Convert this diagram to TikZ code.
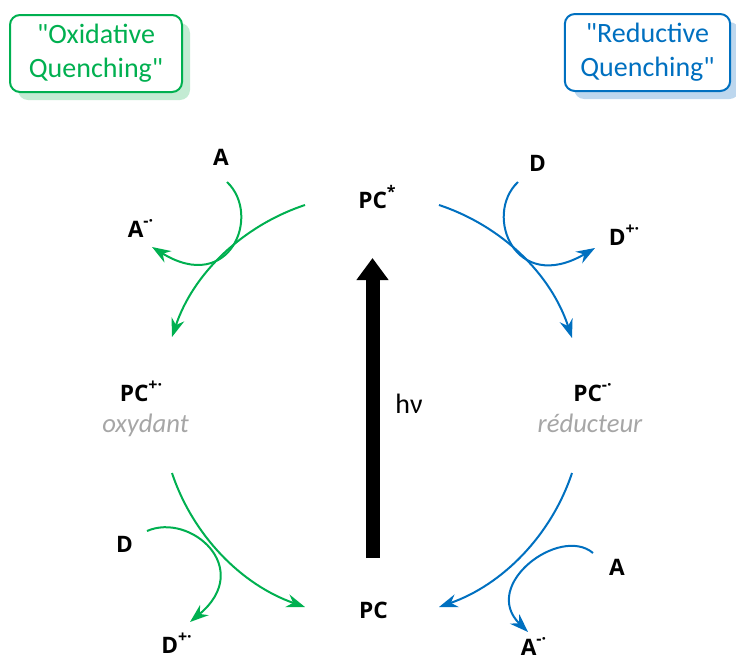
\documentclass[tikz,border=0pt]{standalone}
\usepackage{fontspec}
\setmainfont{Carlito}
\newfontfamily\labelfont{Open Sans}
\usetikzlibrary{arrows.meta,shadows}
\definecolor{OxGreen}{HTML}{00B050}
\definecolor{OxShade}{HTML}{C3EBD3}
\definecolor{RedBlue}{HTML}{0070C0}
\definecolor{RedShade}{HTML}{BDD7EE}
\definecolor{NoteGray}{HTML}{A6A6A6}
\newcommand{\charge}[1]{\raisebox{0.48em}{\fontsize{12}{12}\selectfont#1}}
\begin{document}
\begin{tikzpicture}[x=0.75pt,y=-0.75pt,>=Stealth]
  \tikzstyle{species}=[inner sep=0pt,anchor=base,
    font=\labelfont\bfseries\fontsize{17}{20}\selectfont]
  \tikzstyle{role}=[inner sep=0pt,anchor=base,text=NoteGray,
    font=\itshape\fontsize{20}{24}\selectfont]
  \tikzstyle{quench}=[draw,fill=white,line width=1.5pt,rounded corners=7.5pt,
    minimum height=57.75pt,align=center,font=\fontsize{21}{25.5}\selectfont]
  \tikzstyle{oxflow}=[OxGreen,line width=1.5pt,-{Stealth[length=14pt,width=10pt]}]
  \tikzstyle{redflow}=[RedBlue,line width=1.5pt,-{Stealth[length=14pt,width=10pt]}]
  \useasboundingbox (0,0) rectangle (736,661);
  \node[quench,draw=OxGreen,text=OxGreen,minimum width=129pt,
    drop shadow={shadow xshift=6pt,shadow yshift=-6pt,fill=OxShade,opacity=1}]
    (oxq) at (96,53.5) {\textquotedbl Oxidative\\Quenching\textquotedbl};
  \node[quench,draw=RedBlue,text=RedBlue,minimum width=124pt,
    drop shadow={shadow xshift=7pt,shadow yshift=-6pt,fill=RedShade,opacity=1}]
    (redq) at (647.5,52.5) {\textquotedbl Reductive\\Quenching\textquotedbl};
  \node[species] (pcstar) at (377,208) {PC\charge{*}};
  \node[species] (pcox) at (141,401.5) {PC\charge{+·}};
  \node[role] (oxy) at (145.5,432.5) {oxydant};
  \node[species] (pcred) at (592.5,401.5) {PC\charge{-·}};
  \node[role] (redu) at (590,432.5) {réducteur};
  \node[species] (pc) at (373.5,618) {PC};
  \node[inner sep=0pt,anchor=base,font=\fontsize{21}{25}\selectfont]
    (hv) at (409,413) {hν};
  \node[species] (acc1) at (221,165) {A};
  \node[species] (accr1) at (140.5,237) {A\charge{-·}};
  \node[species] (don1) at (124.5,552) {D};
  \node[species] (donr1) at (176.5,653) {D\charge{+·}};
  \node[species] (don2) at (537.5,171.5) {D};
  \node[species] (donr2) at (624,245) {D\charge{+·}};
  \node[species] (acc2) at (617,575) {A};
  \node[species] (accr2) at (533.5,655) {A\charge{-·}};
  \coordinate (hvfoot) at (372.5,558);
  \coordinate (hvtip) at (372.5,258);
  \draw[line width=10.5pt,-{Triangle[length=16.5pt,width=23pt]}] (hvfoot)--(hvtip);
  \coordinate (ox1) at (305,205);
  \coordinate (ox2) at (172,337);
  \coordinate (ox3) at (172,473);
  \coordinate (ox4) at (305,607);
  \coordinate (re1) at (439,205);
  \coordinate (re2) at (572,338);
  \coordinate (re3) at (572,473);
  \coordinate (re4) at (439,607);
  \coordinate (a1s) at (227,182);
  \coordinate (a1e) at (152,247);
  \coordinate (d1s) at (147,531);
  \coordinate (d1e) at (190,622);
  \coordinate (d2s) at (518,182);
  \coordinate (d2e) at (595,248);
  \coordinate (a2s) at (593,553);
  \coordinate (a2e) at (528,632);
  \draw[oxflow] (ox1) .. controls (242,226) and (193,274) .. (ox2);
  \draw[oxflow] (ox3) .. controls (193,536) and (242,585) .. (ox4);
  \draw[redflow] (re1) .. controls (502,226) and (551,274) .. (re2);
  \draw[redflow] (re3) .. controls (551,536) and (502,585) .. (re4);
  \draw[oxflow] (a1s) .. controls (262,215) and (230,295) .. (a1e);
  \draw[oxflow] (d1s) .. controls (190,512) and (255,568) .. (d1e);
  \draw[redflow] (d2s) .. controls (483,215) and (515,295) .. (d2e);
  \draw[redflow] (a2s) .. controls (560,525) and (480,585) .. (a2e);
\end{tikzpicture}
\end{document}
